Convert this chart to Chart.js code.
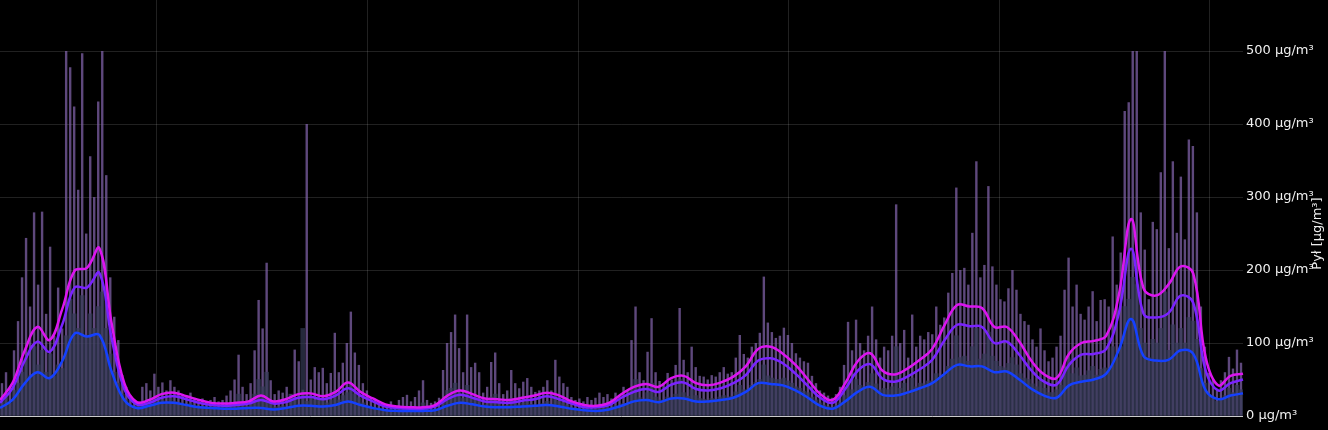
<!DOCTYPE html>
<html>
<head>
<meta charset="utf-8">
<script src="https://cdn.jsdelivr.net/npm/chart.js@4/dist/chart.umd.min.js"></script>
<style>
  html, body { margin: 0; padding: 0; background: #000; }
  #wrap { width: 1328px; height: 430px; position: relative; }
</style>
</head>
<body>
<div id="wrap"><canvas id="dustChart"></canvas></div>
<script>
// Raw readings (bars), one value per slot
const pm10Raw = [
    45, 60, 40, 90, 130, 190, 244, 150, 279, 180,
    280, 140, 232, 110, 176, 120, 500, 478, 424, 310,
    497, 250, 356, 300, 431, 500, 330, 190, 136, 104,
    56, 40, 28, 22, 20, 40, 45, 35, 58, 40,
    46, 35, 49, 40, 35, 30, 28, 32, 25, 22,
    24, 20, 22, 26, 20, 22, 28, 35, 50, 84,
    40, 30, 45, 90, 159, 120, 210, 49, 30, 35,
    32, 40, 30, 91, 75, 36, 400, 50, 67, 60,
    66, 45, 59, 114, 60, 73, 100, 143, 87, 70,
    45, 35, 25, 22, 20, 18, 16, 20, 15, 22,
    26, 29, 20, 26, 35, 49, 22, 18, 20, 25,
    63, 100, 115, 139, 93, 60, 139, 67, 73, 60,
    32, 40, 74, 87, 45, 30, 35, 63, 45, 38,
    47, 52, 40, 33, 35, 40, 49, 35, 77, 54,
    45, 40, 26, 22, 24, 20, 26, 22, 25, 32,
    26, 30, 24, 32, 28, 40, 35, 104, 150, 60,
    49, 88, 134, 60, 48, 45, 59, 50, 70, 148,
    77, 60, 95, 67, 55, 54, 50, 56, 54, 60,
    67, 58, 60, 80, 111, 85, 80, 95, 100, 114,
    191, 128, 115, 107, 110, 121, 111, 100, 86, 80,
    75, 73, 55, 45, 35, 32, 28, 25, 30, 40,
    70, 129, 90, 132, 100, 90, 110, 150, 105, 80,
    95, 90, 110, 290, 100, 118, 80, 139, 95, 110,
    105, 115, 112, 150, 125, 135, 169, 196, 313, 200,
    203, 180, 251, 349, 190, 207, 315, 205, 180, 160,
    157, 175, 200, 173, 140, 130, 125, 105, 95, 120,
    90, 75, 80, 95, 110, 173, 217, 150, 180, 140,
    132, 150, 171, 130, 159, 160, 150, 246, 180, 224,
    418, 430, 500, 500, 279, 228, 160, 266, 256, 334,
    500, 230, 349, 251, 328, 242, 379, 370, 279, 150,
    95, 59, 50, 36, 49, 60, 81, 65, 91, 73
];

const pm1Raw = [
    20, 28, 18, 35, 45, 60, 80, 55, 95, 70,
    90, 60, 85, 55, 70, 65, 110, 160, 140, 120,
    165, 110, 140, 120, 150, 170, 120, 85, 60, 45,
    30, 22, 15, 12, 14, 18, 20, 16, 25, 18,
    22, 18, 24, 20, 18, 16, 15, 17, 14, 12,
    13, 11, 12, 14, 11, 12, 13, 15, 18, 30,
    16, 13, 18, 30, 50, 40, 60, 18, 12, 13,
    14, 12, 30, 25, 15, 120, 20, 25, 22, 24,
    23, 18, 22, 35, 22, 28, 32, 45, 30, 25,
    18, 14, 11, 10, 9, 8, 8, 9, 8, 10,
    10, 11, 9, 10, 12, 18, 9, 8, 9, 11,
    22, 35, 38, 45, 32, 24, 42, 25, 26, 22,
    15, 17, 26, 30, 18, 14, 15, 24, 18, 15,
    18, 20, 16, 15, 15, 17, 20, 16, 28, 20,
    18, 15, 11, 10, 10, 9, 11, 9, 10, 13,
    11, 12, 10, 14, 13, 17, 16, 38, 50, 25,
    22, 32, 45, 26, 22, 21, 26, 24, 30, 50,
    32, 27, 36, 28, 24, 23, 22, 24, 23, 26,
    28, 26, 27, 33, 42, 36, 36, 42, 46, 50,
    70, 55, 52, 50, 50, 52, 48, 45, 40, 38,
    34, 32, 26, 22, 18, 15, 13, 12, 14, 18,
    28, 48, 36, 50, 42, 40, 46, 58, 44, 36,
    38, 36, 40, 95, 38, 45, 34, 52, 40, 45,
    44, 48, 48, 58, 52, 56, 68, 78, 110, 80,
    82, 75, 95, 120, 78, 85, 115, 82, 75, 68,
    66, 72, 80, 70, 58, 52, 50, 44, 40, 48,
    38, 32, 32, 36, 42, 65, 78, 58, 66, 55,
    56, 62, 68, 56, 64, 66, 65, 95, 80, 95,
    150, 160, 190, 180, 120, 100, 80, 105, 100, 120,
    170, 90, 125, 100, 120, 100, 135, 130, 105, 65,
    45, 30, 26, 20, 24, 28, 38, 32, 42, 36
];

// Smoothed averages (lines)
const pm10Avg = [
    22, 45, 90, 122, 104, 146, 199, 203, 230, 125,
    45, 19, 22, 30, 32, 27, 22, 18, 17, 18,
    20, 28, 20, 23, 30, 31, 27, 33, 46, 33,
    24, 16, 13, 12, 12, 15, 28, 35, 30, 24,
    23, 22, 25, 28, 32, 28, 20, 15, 14, 18,
    30, 40, 44, 40, 52, 55, 45, 42, 46, 54,
    68, 92, 95, 85, 70, 50, 30, 22, 45, 75,
    86, 62, 57, 65, 77, 92, 125, 152, 150, 148,
    122, 122, 102, 75, 57, 52, 85, 100, 103, 110,
    165, 270, 175, 165, 180, 205, 195, 80, 42, 55,
    58
];

const pm25Avg = [
    18, 38, 76, 102, 88, 125, 176, 176, 196, 105,
    37, 16, 18, 25, 27, 23, 18, 15, 14, 15,
    17, 22, 17, 19, 25, 26, 23, 28, 38, 28,
    20, 13, 11, 10, 10, 13, 23, 29, 25, 20,
    19, 18, 21, 23, 27, 23, 17, 12, 12, 15,
    25, 33, 37, 33, 43, 46, 37, 35, 38, 45,
    56, 76, 79, 72, 58, 41, 25, 18, 37, 62,
    71, 51, 47, 54, 64, 77, 104, 125, 123, 122,
    100, 102, 84, 62, 47, 43, 70, 84, 85, 92,
    140, 229, 140, 135, 141, 165, 155, 62, 35, 45,
    50
];

const pm1Avg = [
    11, 22, 45, 60, 52, 75, 113, 109, 111, 60,
    22, 11, 14, 18, 18, 15, 12, 11, 10, 10,
    11, 11, 9, 11, 14, 14, 13, 15, 20, 15,
    11, 8, 7, 7, 7, 8, 14, 18, 16, 13,
    12, 12, 13, 14, 15, 13, 10, 8, 7, 9,
    14, 20, 22, 19, 24, 24, 20, 20, 22, 25,
    33, 45, 44, 42, 35, 25, 14, 10, 20, 33,
    40, 29, 28, 32, 38, 45, 58, 70, 68, 68,
    60, 61, 50, 37, 28, 25, 42, 47, 50, 58,
    90, 133, 82, 76, 77, 90, 85, 35, 23, 28,
    31
];

const yTicks = [0, 100, 200, 300, 400, 500];
const unit = ' µg/m³';

const barLabels = pm10Raw.map((_, i) => i);
const lineLabels = pm10Avg.map((_, i) => i);

// axis title drawn on the right, reading bottom to top
const axisTitle = {
    id: 'axisTitle',
    afterDraw(chart) {
        const ctx = chart.ctx;
        const y = chart.scales.y;
        const mid = (y.getPixelForValue(0) + y.getPixelForValue(500)) / 2;
        ctx.save();
        ctx.translate(chart.width - 10, mid);
        ctx.rotate(-Math.PI / 2);
        ctx.fillStyle = '#eeeeee';
        ctx.font = '13px "DejaVu Sans"';
        ctx.textAlign = 'center';
        ctx.textBaseline = 'middle';
        ctx.fillText('Pył [µg/m³]', 0, 0);
        ctx.restore();
    }
};

const ctx = document.getElementById('dustChart').getContext('2d');
new Chart(ctx, {
    data: {
        labels: barLabels,
        datasets: [
            {
                type: 'line', label: 'PM10', data: pm10Avg, xAxisID: 'x2',
                borderColor: '#dc14f0', borderWidth: 2.5, pointRadius: 0,
                tension: 0.4, order: 0
            },
            {
                type: 'line', label: 'PM2.5', data: pm25Avg, xAxisID: 'x2',
                borderColor: '#7a22ff', borderWidth: 2.5, pointRadius: 0,
                tension: 0.4, order: 0
            },
            {
                type: 'line', label: 'PM1', data: pm1Avg, xAxisID: 'x2',
                borderColor: '#1440ff', borderWidth: 2.5, pointRadius: 0,
                tension: 0.4, order: 0
            },
            {
                type: 'bar', label: 'PM1 raw', data: pm1Raw, xAxisID: 'x',
                backgroundColor: 'rgba(52, 58, 86, 0.7)', grouped: false,
                barPercentage: 1, categoryPercentage: 1, order: 1
            },
            {
                type: 'bar', label: 'PM10 raw', data: pm10Raw, xAxisID: 'x',
                backgroundColor: 'rgba(130, 100, 172, 0.72)', grouped: false,
                barPercentage: 0.6, categoryPercentage: 1, order: 2
            }
        ]
    },
    options: {
        responsive: true,
        maintainAspectRatio: false,
        animation: false,
        layout: { padding: { top: 0, bottom: 14, left: 0, right: 0 } },
        plugins: {
            legend: { display: false },
            tooltip: { enabled: false }
        },
        scales: {
            x: { type: 'category', labels: barLabels, display: false },
            x2: { type: 'category', labels: lineLabels, display: false, offset: false },
            xt: {
                type: 'linear',
                position: 'bottom',
                min: -0.745,
                max: 5.157,
                ticks: { display: false, stepSize: 1, includeBounds: false },
                grid: { color: 'rgba(255,255,255,0.13)', drawTicks: false },
                border: { display: false }
            },
            y: {
                position: 'right',
                min: 0,
                max: 570,
                afterBuildTicks: (scale) => {
                    scale.ticks = yTicks.map(v => ({ value: v }));
                },
                afterFit: (scale) => {
                    scale.width = 85;
                    scale.paddingTop = 0;
                    scale.paddingBottom = 0;
                },
                ticks: {
                    color: '#f0f0f0',
                    font: { family: 'DejaVu Sans', size: 13 },
                    padding: 3,
                    callback: (v) => v + unit
                },
                grid: {
                    drawTicks: false,
                    color: (c) => c.tick && c.tick.value === 0 ? 'rgba(225,225,225,0.9)' : 'rgba(255,255,255,0.13)'
                },
                border: { display: false }
            }
        }
    },
    plugins: [axisTitle]
});
</script>
</body>
</html>
